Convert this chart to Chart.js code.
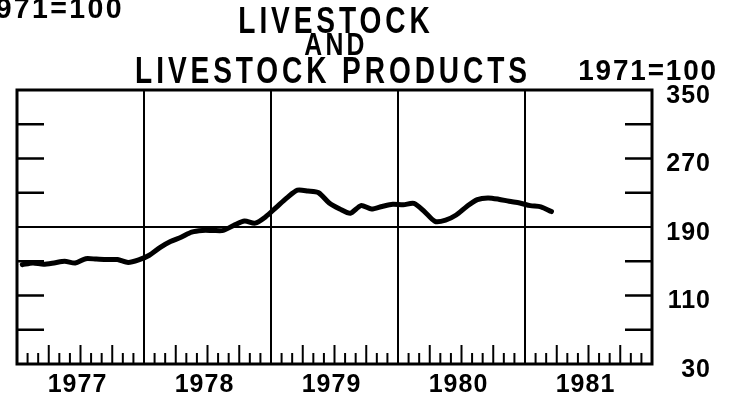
<!DOCTYPE html>
<html>
<head>
<meta charset="utf-8">
<script src="https://cdn.jsdelivr.net/npm/chart.js@4.4.1/dist/chart.umd.min.js"></script>
<style>
  html, body { margin: 0; padding: 0; background: #fff; }
  canvas { display: block; }
</style>
</head>
<body>
<canvas id="chart" width="734" height="398"></canvas>
<script>
// Livestock and livestock products price index, monthly, 1971=100
const yearLabels = ['1977', '1978', '1979', '1980', '1981'];
const yTickValues = [30, 110, 190, 270, 350];
const indexValues = [
  146, 148, 146.5, 148, 150, 148, 153, 152.5, 152, 152, 148.5, 151.5, // 1977
  157, 166, 173, 178, 184, 186, 186, 186, 192, 197, 194.5, 202,       // 1978
  213, 224, 233, 232, 230, 218, 211, 206, 215, 211, 214, 216.5,       // 1979
  216, 217.5, 208, 196.5, 198, 204, 214, 222, 224, 222.5, 220, 218,   // 1980
  215, 213.5, 208                                                     // 1981
];
const baseLine = 190;

const FAMILY = "'Liberation Sans', Arial, Helvetica, sans-serif";
const INK = '#000';

// monthly points sit in the middle of each month on a 0..60 month axis
const points = indexValues.map((v, i) => ({ x: i + 0.5, y: v }));

// condensed lettering: squeeze the glyphs horizontally around the anchor
function narrowText(ctx, text, x, y, size, squeeze, spacing, align) {
  ctx.save();
  ctx.font = `bold ${size}px ${FAMILY}`;
  ctx.letterSpacing = spacing + 'px';
  ctx.textAlign = align;
  ctx.translate(x, y);
  ctx.scale(squeeze, 1);
  ctx.fillText(text, 0, 0);
  ctx.restore();
}

const frame = {
  id: 'frame',
  beforeDraw(chart) {
    chart.ctx.letterSpacing = '1px';
  },
  beforeDatasetsDraw(chart) {
    const { ctx, chartArea: a, scales: { x, y } } = chart;
    ctx.save();
    ctx.strokeStyle = INK;
    ctx.lineCap = 'butt';

    // inner ticks on both sides every 40 points
    ctx.lineWidth = 2.5;
    for (let v = 70; v < 350; v += 40) {
      if (v === baseLine) continue;
      const py = y.getPixelForValue(v);
      ctx.beginPath();
      ctx.moveTo(a.left, py); ctx.lineTo(a.left + 27, py);
      ctx.moveTo(a.right - 27, py); ctx.lineTo(a.right, py);
      ctx.stroke();
    }

    // month ticks along the bottom, taller at quarter ends
    ctx.lineWidth = 2;
    for (let m = 1; m < 60; m++) {
      if (m % 12 === 0) continue;
      const px = x.getPixelForValue(m);
      const len = m % 3 === 0 ? 19 : 11;
      ctx.beginPath();
      ctx.moveTo(px, a.bottom); ctx.lineTo(px, a.bottom - len);
      ctx.stroke();
    }

    ctx.lineWidth = 3;
    ctx.strokeRect(a.left, a.top, a.right - a.left, a.bottom - a.top);
    ctx.restore();
  },
  afterDraw(chart) {
    const ctx = chart.ctx;
    ctx.save();
    ctx.fillStyle = INK;
    ctx.textBaseline = 'alphabetic';

    narrowText(ctx, 'LIVESTOCK', 336, 33, 36, 0.78, 5, 'center');
    narrowText(ctx, 'AND', 336, 55, 31, 0.8, 4, 'center');
    narrowText(ctx, 'LIVESTOCK PRODUCTS', 333, 83, 36, 0.78, 5, 'center');

    narrowText(ctx, '1971=100', 718, 80, 30, 0.93, 2, 'right');
    narrowText(ctx, '1971=100', 124, 18, 30, 0.95, 2.5, 'right');
    ctx.restore();
  }
};

new Chart(document.getElementById('chart'), {
  type: 'line',
  data: {
    datasets: [{
      data: points,
      borderColor: INK,
      borderWidth: 5,
      pointRadius: 0,
      tension: 0.25,
      borderJoinStyle: 'round',
      borderCapStyle: 'round'
    }]
  },
  options: {
    responsive: false,
    devicePixelRatio: 1,
    animation: false,
    layout: { padding: { left: 17, top: 90, right: 23, bottom: 0 } },
    plugins: {
      legend: { display: false },
      title: { display: false },
      tooltip: { enabled: false }
    },
    scales: {
      x: {
        type: 'linear',
        min: 0,
        max: 60,
        border: { display: false },
        grid: {
          drawTicks: false,
          lineWidth: 2,
          color: c => (c.tick && c.tick.value % 12 === 0 && c.tick.value > 0 && c.tick.value < 60) ? INK : 'transparent'
        },
        ticks: {
          stepSize: 6,
          autoSkip: false,
          maxRotation: 0,
          padding: 6,
          labelOffset: -3,
          color: INK,
          font: { family: FAMILY, size: 25, weight: 'bold' },
          callback: v => (v % 12 === 6 ? yearLabels[(v - 6) / 12] : '')
        },
        afterFit: s => { s.height = 34; }
      },
      y: {
        type: 'linear',
        position: 'right',
        min: 30,
        max: 350,
        border: { display: false },
        grid: {
          drawTicks: false,
          lineWidth: 2,
          color: c => (c.tick && c.tick.value === baseLine) ? INK : 'transparent'
        },
        afterBuildTicks: s => { s.ticks = yTickValues.map(v => ({ value: v })); },
        ticks: {
          crossAlign: 'far',
          labelOffset: 6,
          color: INK,
          font: { family: FAMILY, size: 25, weight: 'bold' }
        },
        afterFit: s => { s.width = 59; }
      }
    }
  },
  plugins: [frame]
});
</script>
</body>
</html>
